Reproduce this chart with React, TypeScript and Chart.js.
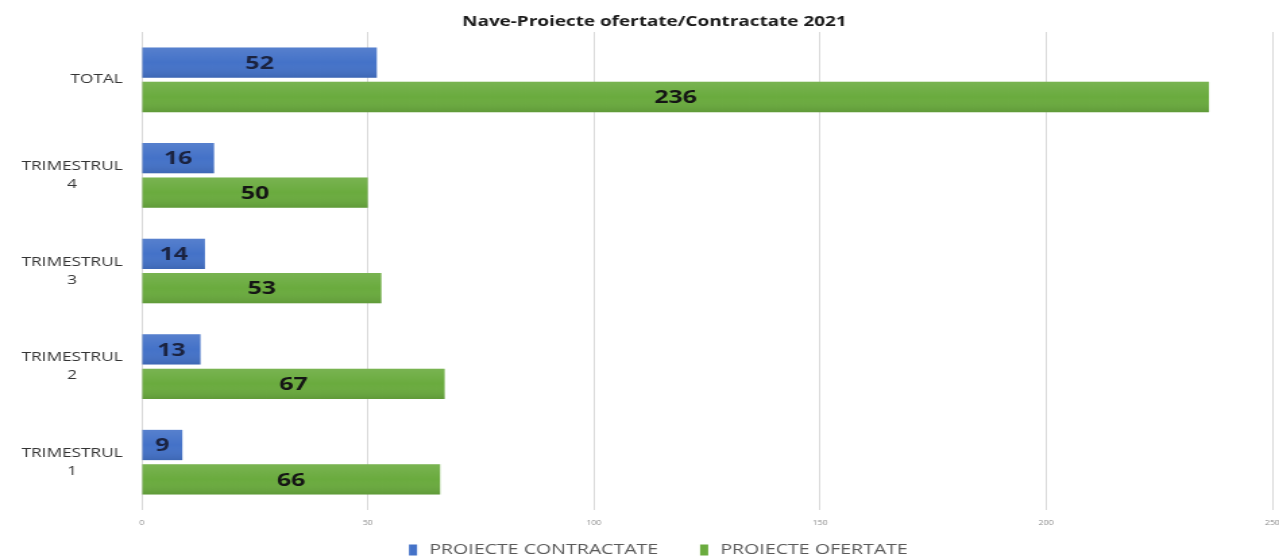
import React, { useEffect, useRef } from "react";
import { Chart, registerables } from "chart.js";

Chart.register(...registerables);

const title = "Nave-Proiecte ofertate/Contractate 2021";
const categories: string[][] = [
  ["TOTAL"],
  ["TRIMESTRUL", "4"],
  ["TRIMESTRUL", "3"],
  ["TRIMESTRUL", "2"],
  ["TRIMESTRUL", "1"],
];
const seriesNames = ["PROIECTE CONTRACTATE", "PROIECTE OFERTATE"];
const contractate = [52, 16, 14, 13, 9];
const ofertate = [236, 50, 53, 67, 66];
const xTicks = [0, 50, 100, 150, 200, 250];

const colors = ["#4472C8", "#6AAB3E"];
const labelColors = ["#1b2340", "#151515"];

// The reference is a horizontally stretched picture: draw narrow, display wide.
const CANVAS_W = 948;
const CANVAS_H = 558;
const DISPLAY_W = 1279;

const barShading = {
  id: "barShading",
  afterDatasetsDraw(chart: any) {
    const ctx = chart.ctx;
    ctx.save();
    chart.data.datasets.forEach((_ds: any, di: number) => {
      const meta = chart.getDatasetMeta(di);
      meta.data.forEach((bar: any) => {
        const top = bar.y - bar.height / 2;
        const bottom = bar.y + bar.height / 2;
        const left = Math.min(bar.x, bar.base);
        const w = Math.abs(bar.x - bar.base);
        const g = ctx.createLinearGradient(0, top, 0, bottom);
        g.addColorStop(0, "rgba(255,255,255,0.10)");
        g.addColorStop(0.5, "rgba(255,255,255,0)");
        g.addColorStop(1, "rgba(0,0,0,0.10)");
        ctx.fillStyle = g;
        ctx.fillRect(left, top, w, bottom - top);
      });
    });
    ctx.restore();
  },
};

const valueLabels = {
  id: "valueLabels",
  afterDatasetsDraw(chart: any) {
    const ctx = chart.ctx;
    ctx.save();
    ctx.font = "bold 18.5px 'Open Sans', sans-serif";
    ctx.textAlign = "center";
    ctx.textBaseline = "middle";
    chart.data.datasets.forEach((ds: any, di: number) => {
      const meta = chart.getDatasetMeta(di);
      ctx.fillStyle = labelColors[di];
      meta.data.forEach((bar: any, i: number) => {
        const cx = (bar.x + bar.base) / 2;
        ctx.fillText(String(ds.data[i]), cx, bar.y + 1);
      });
    });
    ctx.restore();
  },
};

const categoryLabels = {
  id: "categoryLabels",
  afterDraw(chart: any) {
    const ctx = chart.ctx;
    const yScale = chart.scales.y;
    ctx.save();
    ctx.font = "12.8px 'Open Sans', sans-serif";
    ctx.textAlign = "center";
    ctx.textBaseline = "middle";
    ctx.fillStyle = "#333333";
    const lineH = 18;
    const right = chart.chartArea.left - 14;
    (chart.data.labels as string[][]).forEach((lines, i) => {
      const cy = yScale.getPixelForValue(i);
      const w = Math.max(...lines.map((l) => ctx.measureText(l).width));
      const cx = right - w / 2;
      const y0 = cy - ((lines.length - 1) * lineH) / 2;
      lines.forEach((l, k) => ctx.fillText(l, cx, y0 + k * lineH));
    });
    ctx.restore();
  },
};

const topTitle = {
  id: "topTitle",
  afterDraw(chart: any) {
    const ctx = chart.ctx;
    ctx.save();
    ctx.font = "bold 14px 'Open Sans', sans-serif";
    ctx.textAlign = "center";
    ctx.textBaseline = "middle";
    ctx.fillStyle = "#1a1a1a";
    ctx.fillText(title, chart.width / 2 + 11, 22);
    ctx.restore();
  },
};

const bottomLegend = {
  id: "bottomLegend",
  afterDraw(chart: any) {
    const ctx = chart.ctx;
    ctx.save();
    ctx.font = "14.5px 'Open Sans', sans-serif";
    ctx.textBaseline = "middle";
    ctx.textAlign = "left";
    const boxW = 6;
    const boxH = 11;
    const gap = 9;
    const itemGap = 31;
    const items = chart.data.datasets.map((ds: any) => ({
      text: ds.label,
      color: ds.backgroundColor,
      w: ctx.measureText(ds.label).width,
    }));
    const total =
      items.reduce((s: number, it: any) => s + boxW + gap + it.w, 0) +
      itemGap * (items.length - 1);
    let x = chart.width / 2 - total / 2 + 14;
    const y = 550;
    items.forEach((it: any) => {
      ctx.fillStyle = it.color;
      ctx.fillRect(x, y - boxH / 2, boxW, boxH);
      x += boxW + gap;
      ctx.fillStyle = "#595959";
      ctx.fillText(it.text, x, y);
      x += it.w + itemGap;
    });
    ctx.restore();
  },
};

export default function App() {
  const ref = useRef<HTMLCanvasElement>(null);
  useEffect(() => {
    document.body.style.margin = "0";
    const chart = new Chart(ref.current!, {
      type: "bar",
      data: {
        labels: categories,
        datasets: [
          {
            label: seriesNames[0],
            data: contractate,
            backgroundColor: colors[0],
            categoryPercentage: 0.72,
            barPercentage: 0.88,
          },
          {
            label: seriesNames[1],
            data: ofertate,
            backgroundColor: colors[1],
            categoryPercentage: 0.72,
            barPercentage: 0.88,
          },
        ],
      },
      options: {
        indexAxis: "y",
        animation: false,
        responsive: false,
        devicePixelRatio: 1,
        layout: { padding: { left: 0, right: 5, top: 32, bottom: 24 } },
        plugins: {
          title: { display: false },
          legend: { display: false },
          tooltip: { enabled: false },
        },
        scales: {
          x: {
            min: 0,
            max: 250,
            afterBuildTicks(scale: any) {
              scale.ticks = xTicks.map((v) => ({ value: v }));
            },
            afterFit(scale: any) {
              scale.height = 24;
              scale.paddingLeft = 0;
              scale.paddingRight = 0;
            },
            grid: { color: "#d9d9d9", drawTicks: false },
            border: { display: false },
            ticks: {
              color: "#8c8c8c",
              font: { family: "'Open Sans', sans-serif", size: 6.5 },
              padding: 9,
              maxRotation: 0,
            },
          },
          y: {
            afterFit(scale: any) {
              scale.width = 105;
            },
            grid: { display: false, drawTicks: false },
            border: { display: false },
            ticks: { display: false },
          },
        },
      },
      plugins: [barShading, valueLabels, categoryLabels, topTitle, bottomLegend],
    });
    return () => chart.destroy();
  }, []);
  return (
    <canvas
      ref={ref}
      width={CANVAS_W}
      height={CANVAS_H}
      style={{ display: "block", width: DISPLAY_W + "px", height: CANVAS_H + "px" }}
    />
  );
}
